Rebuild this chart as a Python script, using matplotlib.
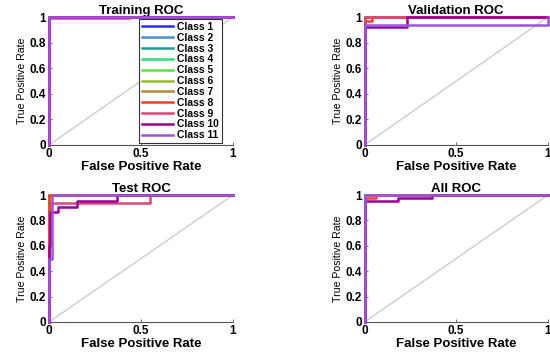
import numpy as np
import matplotlib
matplotlib.use("Agg")
import matplotlib.pyplot as plt

plt.rcParams['font.family'] = ['Liberation Sans', 'DejaVu Sans']

class_names = ['Class %d' % i for i in range(1, 12)]
class_colors = ['#2b2bff', '#4d8fcc', '#1f9e8e', '#33dd77', '#55ee33', '#99bb33',
                '#bb8833', '#ee4422', '#e0457b', '#990099', '#9955dd']

# perfect curve shared by most classes
perfect_fpr = [0, 0, 1]
perfect_tpr = [0, 1, 1]

# curves that differ from the perfect one, per panel: class index -> (fpr, tpr)
train_curves = {
    8: ([0, 0, 0.44, 0.44, 1], [0, 0.993, 0.993, 1, 1]),
}
valid_curves = {
    8: ([0, 0, 0.04, 0.04, 1], [0, 0.965, 0.965, 1, 1]),
    10: ([0, 0, 0.23, 0.23, 1], [0, 0.925, 0.925, 1, 1]),
    11: ([0, 0, 1, 1], [0, 0.94, 0.94, 1]),
}
test_curves = {
    8: ([0, 0, 1], [0, 1, 1]),
    9: ([0, 0, 0.01, 0.01, 0.55, 0.55, 1], [0, 0.85, 0.85, 0.935, 0.935, 1, 1]),
    10: ([0, 0, 0.008, 0.008, 0.05, 0.05, 0.154, 0.154, 0.37, 0.37, 1],
         [0, 0.6, 0.6, 0.87, 0.87, 0.905, 0.905, 0.95, 0.95, 1, 1]),
    11: ([0, 0, 0.015, 0.015, 1], [0, 0.5, 0.5, 1, 1]),
}
all_curves = {
    8: ([0, 0, 0.06, 0.06, 1], [0, 0.975, 0.975, 1, 1]),
    10: ([0, 0, 0.18, 0.18, 0.37, 0.37, 1], [0, 0.955, 0.955, 0.975, 0.975, 1, 1]),
}

panels = [
    ('Training ROC', train_curves, [49, 145, 184, 128], True),
    ('Validation ROC', valid_curves, [364.5, 145, 183.5, 128], False),
    ('Test ROC', test_curves, [49, 322, 184, 127], False),
    ('All ROC', all_curves, [364.5, 322, 183.5, 127], False),
]

W, H = 550, 354
fig = plt.figure(figsize=(W / 100, H / 100), dpi=100)

for title, curves, (px, pb, pw, ph), show_legend in panels:
    ax = fig.add_axes([px / W, (H - pb) / H, pw / W, ph / H])
    ax.plot([0, 1], [0, 1], color='#cccccc', lw=1.0, zorder=1)
    handles = []
    for i in range(11):
        fpr, tpr = curves.get(i + 1, (perfect_fpr, perfect_tpr))
        h, = ax.plot(fpr, tpr, color=class_colors[i], lw=1.8, clip_on=False,
                     zorder=2 + i, label=class_names[i])
        handles.append(h)
    ax.set_xlim(0, 1)
    ax.set_ylim(0, 1)
    ax.set_xticks([0, 0.5, 1])
    ax.set_xticklabels(['0', '0.5', '1'], fontweight='bold', fontsize=8.5)
    ax.set_yticks([0, 0.2, 0.4, 0.6, 0.8, 1])
    ax.set_yticklabels(['0', '0.2', '0.4', '0.6', '0.8', '1'], fontweight='bold', fontsize=8.5)
    ax.tick_params(direction='in', length=2.5, width=0.6, color='#555555', pad=2)
    for s in ['top', 'right']:
        ax.spines[s].set_visible(False)
    for s in ['left', 'bottom']:
        ax.spines[s].set_color('#555555')
        ax.spines[s].set_linewidth(0.8)
    ax.set_title(title, fontweight='bold', fontsize=9.5, pad=1.5)
    ax.set_xlabel('False Positive Rate', fontweight='bold', fontsize=9.5, labelpad=1)
    ax.set_ylabel('True Positive Rate', fontsize=7.6, labelpad=2)
    if show_legend:
        leg = ax.legend(handles=handles, loc='upper left', bbox_to_anchor=(0.49, 0.985),
                        prop={'weight': 'bold', 'size': 7.4}, handlelength=3.0,
                        labelspacing=0.08, borderpad=0.3, handletextpad=0.35,
                        fancybox=False, framealpha=1, borderaxespad=0)
        leg.get_frame().set_edgecolor('#333333')
        leg.get_frame().set_linewidth(0.8)
        leg.set_zorder(20)

fig.savefig('out.png', dpi=100)
